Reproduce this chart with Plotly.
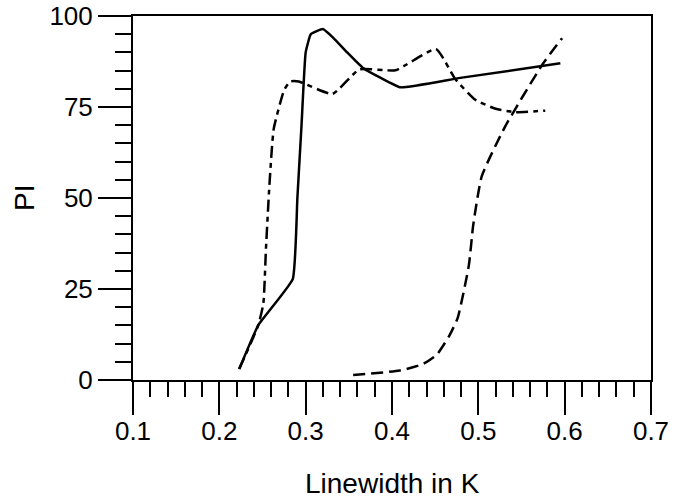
import plotly.graph_objects as go

# Solid curve
solid_x = [0.223, 0.245, 0.285, 0.2904, 0.2952, 0.300, 0.306, 0.320, 0.332, 0.348, 0.366, 0.387, 0.410, 0.479, 0.595]
solid_y = [3.0, 15.0, 27.7, 50.0, 70.0, 90.0, 95.0, 96.4, 94.0, 90.0, 85.8, 83.0, 80.4, 83.0, 87.0]

# Dash-dot curve
dashdot_x = [0.223, 0.245, 0.251, 0.254, 0.258, 0.263, 0.275, 0.282, 0.292, 0.331, 0.362, 0.404, 0.451, 0.4735, 0.4965, 0.520, 0.543, 0.5775]
dashdot_y = [3.0, 15.0, 21.0, 36.0, 53.5, 69.0, 79.6, 82.0, 82.0, 78.6, 85.3, 85.1, 90.9, 82.6, 77.0, 74.5, 73.6, 74.0]

# Dashed curve
dashed_x = [0.355, 0.409, 0.436, 0.452, 0.466, 0.476, 0.489, 0.494, 0.504, 0.531, 0.574, 0.597]
dashed_y = [1.4, 2.6, 4.4, 7.0, 12.0, 17.0, 31.5, 42.4, 56.0, 69.6, 86.6, 93.9]

x_ticks = [0.1, 0.2, 0.3, 0.4, 0.5, 0.6, 0.7]
x_ticklabels = ["0.1", "0.2", "0.3", "0.4", "0.5", "0.6", "0.7"]
y_ticks = [0, 25, 50, 75, 100]
y_ticklabels = ["0", "25", "50", "75", "100"]

fig = go.Figure()
fig.add_trace(go.Scatter(x=solid_x, y=solid_y, mode="lines",
                         line=dict(color="black", width=2.5, shape="spline", smoothing=0.35),
                         showlegend=False))
fig.add_trace(go.Scatter(x=dashdot_x, y=dashdot_y, mode="lines",
                         line=dict(color="black", width=2.5, shape="spline", smoothing=0.45,
                                   dash="12px,5px,5px,5px"),
                         showlegend=False))
fig.add_trace(go.Scatter(x=dashed_x, y=dashed_y, mode="lines",
                         line=dict(color="black", width=2.5, shape="spline", smoothing=0.5,
                                   dash="12px,6px"),
                         showlegend=False))

font = "Liberation Sans, Arial, sans-serif"
fig.update_layout(
    width=678, height=501,
    margin=dict(l=133, r=27, t=16, b=121),
    paper_bgcolor="white", plot_bgcolor="white",
    font=dict(family=font, color="black", size=26),
    xaxis=dict(
        range=[0.1, 0.7], tickvals=x_ticks, ticktext=x_ticklabels,
        showgrid=False, zeroline=False, automargin=False,
        showline=True, linecolor="black", linewidth=2, mirror=True,
        ticks="outside", ticklen=33, tickwidth=2, tickcolor="black",
        tickfont=dict(size=26), ticklabelstandoff=-6, ticklabeloverflow="allow",
        minor=dict(dtick=0.02, ticks="outside", ticklen=15, tickwidth=2, tickcolor="black", showgrid=False),
    ),
    yaxis=dict(
        range=[0, 100], tickvals=y_ticks, ticktext=y_ticklabels,
        showgrid=False, zeroline=False, automargin=False,
        showline=True, linecolor="black", linewidth=2, mirror=True,
        ticks="outside", ticklen=33, tickwidth=2, tickcolor="black",
        tickfont=dict(size=26), ticklabeloverflow="allow",
        minor=dict(dtick=5, ticks="outside", ticklen=16, tickwidth=2, tickcolor="black", showgrid=False),
    ),
    annotations=[
        dict(text="Linewidth in K", xref="paper", yref="paper", x=0.5, y=0,
             xanchor="center", yanchor="middle", yshift=-103, showarrow=False,
             font=dict(size=28)),
        dict(text="PI", xref="paper", yref="paper", x=0, y=0.5,
             xanchor="center", yanchor="middle", xshift=-109, showarrow=False,
             textangle=-90, font=dict(size=28)),
    ],
)

fig.write_html("out.html", config={"displayModeBar": False},
               post_script="document.body.style.margin='0';document.body.style.padding='0';")
